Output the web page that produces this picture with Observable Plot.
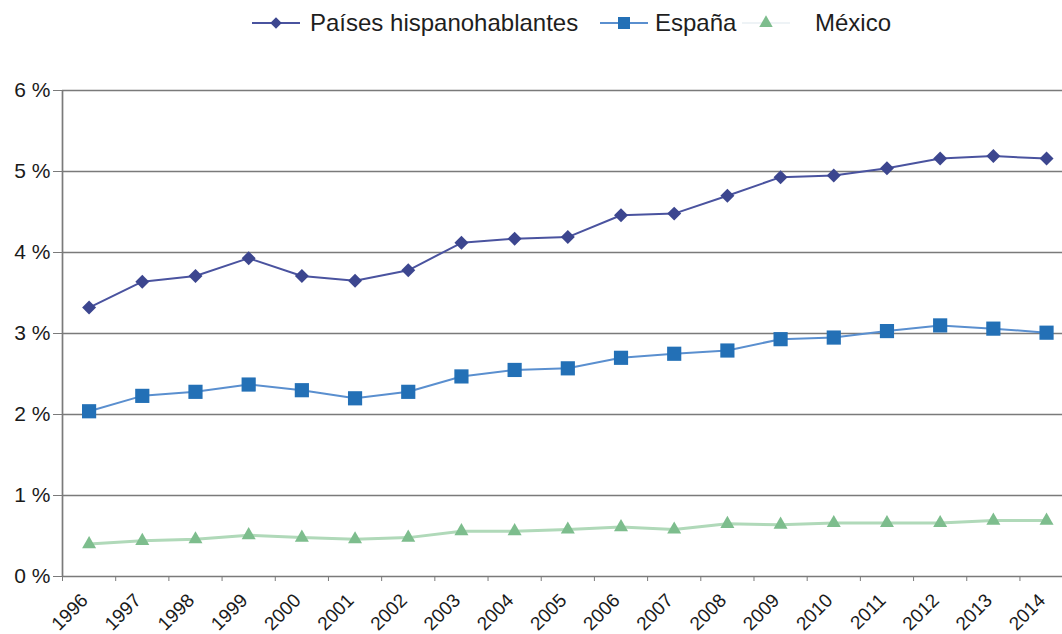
<!DOCTYPE html>
<html>
<head>
<meta charset="utf-8">
<script src="https://cdn.jsdelivr.net/npm/d3@7"></script>
<script src="https://cdn.jsdelivr.net/npm/@observablehq/plot@0.6"></script>
<style>
  html, body { margin: 0; padding: 0; background: #fff; overflow: hidden; }
  body { width: 1062px; height: 634px; font-family: "Liberation Sans", Arial, sans-serif; }
  #legend { position: relative; height: 45px; width: 1062px; }
  .item { position: absolute; top: 0; height: 45px; display: flex; align-items: center; font-size: 24px; color: #1e1e1e; }
  .item svg { display: block; }
</style>
</head>
<body>
<div id="legend"></div>
<div id="chart"></div>
<script>
const years = [1996,1997,1998,1999,2000,2001,2002,2003,2004,2005,2006,2007,2008,2009,2010,2011,2012,2013,2014];
const hispanohablantes = [3.32,3.64,3.71,3.93,3.71,3.65,3.78,4.12,4.17,4.19,4.46,4.48,4.70,4.93,4.95,5.04,5.16,5.19,5.16];
const espana = [2.04,2.23,2.28,2.37,2.30,2.20,2.28,2.47,2.55,2.57,2.70,2.75,2.79,2.93,2.95,3.03,3.10,3.06,3.01];
const mexico = [0.40,0.44,0.46,0.51,0.48,0.46,0.48,0.56,0.56,0.58,0.61,0.58,0.65,0.64,0.66,0.66,0.66,0.69,0.69];
const yTicks = [0,1,2,3,4,5,6];
const seriesNames = ["Países hispanohablantes", "España", "México"];

const series = [
  {name: seriesNames[0], values: hispanohablantes, line: "#4a539f", fill: "#3c468f", symbol: d3.symbolDiamond2 || "diamond", r: 6.3, lr: 5.2, lw: 2},
  {name: seriesNames[1], values: espana, line: "#5a8fcf", fill: "#2370b6", symbol: "square", r: 8, lr: 6.8, lw: 2},
  {name: seriesNames[2], values: mexico, line: "#b0d9b9", fill: "#7dbd8d", symbol: "triangle", r: 5.2, lr: 5, lw: 3}
];
const rows = series.flatMap(s => years.map((yr, i) => ({series: s.name, year: yr, value: s.values[i]})));
const halfYears = d3.range(years.length + 1).map(i => years[0] - 0.5 + i);

// Legend
const legend = document.getElementById("legend");
const legendPos = [
  {lineX: 252, textX: 310, lineW: 48},
  {lineX: 600, textX: 655, lineW: 48},
  {lineX: 742, textX: 815, lineW: 48}
];
series.forEach((s, i) => {
  const p = legendPos[i];
  const symType = typeof s.symbol === "string" ? ({square: d3.symbolSquare, triangle: d3.symbolTriangle, diamond: d3.symbolDiamond})[s.symbol] : s.symbol;
  const sym = d3.symbol(symType, Math.PI * s.lr * s.lr)();
  const mk = document.createElement("div");
  mk.className = "item";
  mk.style.left = p.lineX + "px";
  mk.innerHTML = `<svg width="${p.lineW}" height="20" viewBox="0 0 ${p.lineW} 20"><line x1="0" x2="${p.lineW}" y1="10" y2="10" stroke="${i === 2 ? '#e8eff3' : s.line}" stroke-width="${i === 2 ? 1.5 : 2}"/><path transform="translate(${p.lineW/2},10)" d="${sym}" fill="${s.fill}"/></svg>`;
  legend.appendChild(mk);
  const tx = document.createElement("div");
  tx.className = "item";
  tx.style.left = p.textX + "px";
  tx.textContent = s.name;
  legend.appendChild(tx);
});

const chart = Plot.plot({
  width: 1062,
  height: 589,
  marginLeft: 62,
  marginRight: 0,
  marginTop: 45,
  marginBottom: 58,
  style: {fontFamily: "Liberation Sans, Arial, sans-serif", background: "#fff", color: "#1e1e1e"},
  x: {type: "linear", domain: [1995.5, 2014.3], axis: null},
  y: {domain: [0, 6], axis: null},
  marks: [
    Plot.ruleY(yTicks, {y: d => d, stroke: "#7a7a7a", strokeWidth: 1.7}),
    Plot.ruleX([1995.5], {y1: 0, y2: 6, stroke: "#7a7a7a", strokeWidth: 1.7}),
    Plot.axisY({ticks: yTicks, tickFormat: d => `${d} %`, tickSize: 9, tickPadding: 3, fontSize: 21, label: null, stroke: "#7a7a7a", fill: "#1a1a1a"}),
    Plot.axisX({ticks: halfYears, tickFormat: () => "", tickSize: 5, label: null, stroke: "#7a7a7a"}),
    Plot.text(years, {x: d => d, frameAnchor: "bottom", text: d => String(d), rotate: -45, textAnchor: "end", dx: 0, dy: 25, fontSize: 19, fill: "#1a1a1a"}),
    ...series.map(s => Plot.line(rows.filter(r => r.series === s.name), {x: "year", y: "value", stroke: s.line, strokeWidth: s.lw})),
    ...series.map(s => Plot.dot(rows.filter(r => r.series === s.name), {x: "year", y: "value", symbol: () => s.symbol, r: s.r, fill: s.fill, stroke: "none"}))
  ]
});
document.getElementById("chart").appendChild(chart);
</script>
</body>
</html>
